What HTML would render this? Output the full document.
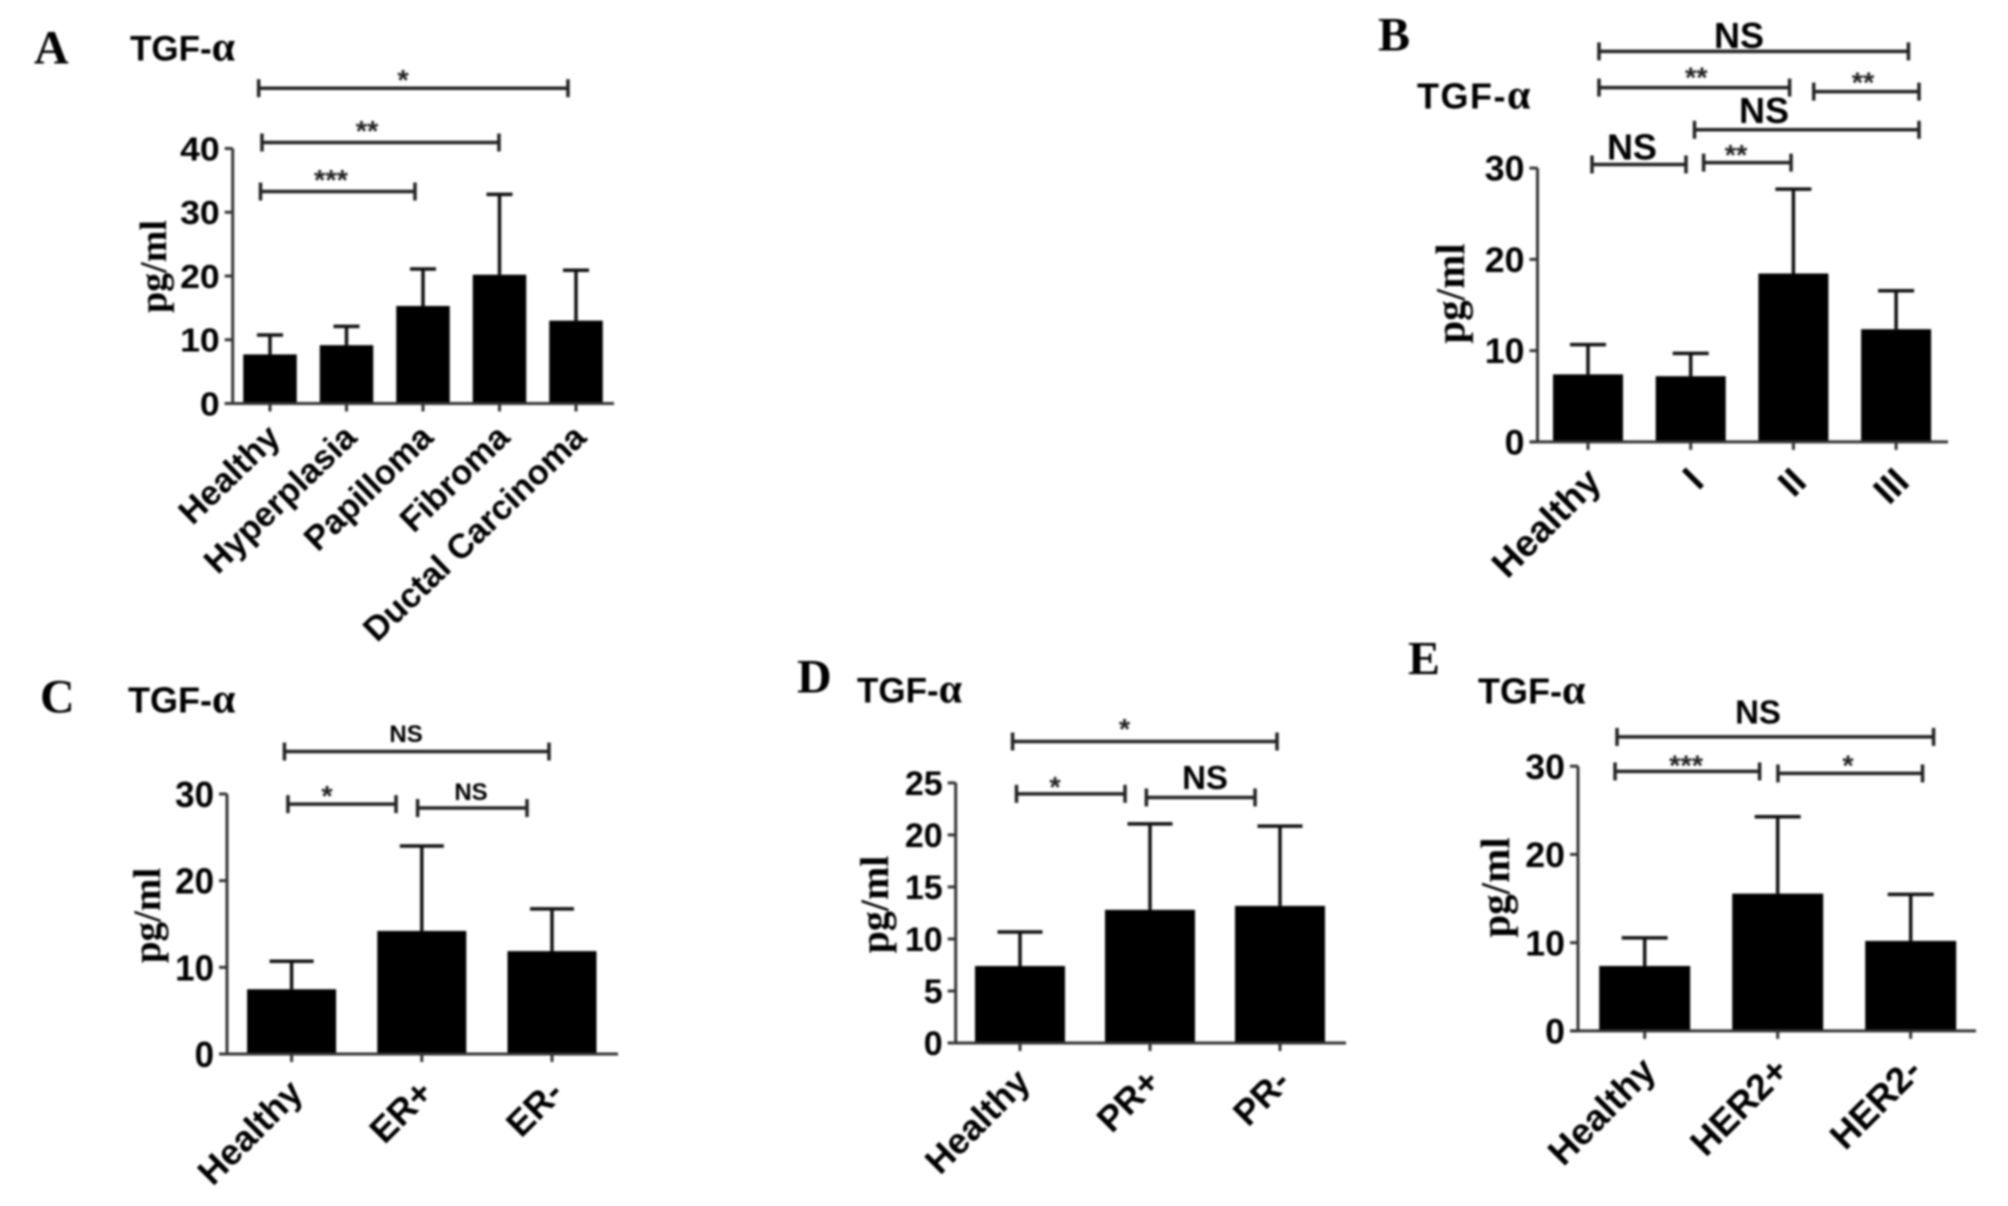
<!DOCTYPE html>
<html lang="en">
<head>
<meta charset="utf-8">
<title>TGF-α serum levels by group</title>
<style>
html,body{margin:0;padding:0;background:#fff;}
svg{display:block;filter:blur(1px);}
text{fill:#000;}
.sans{font-family:"Liberation Sans",sans-serif;font-weight:bold;}
.serif{font-family:"Liberation Serif",serif;font-weight:bold;}
.alpha{font-family:"Liberation Serif",serif;font-weight:bold;font-size:42px;}
</style>
</head>
<body>
<svg id="figure" xmlns="http://www.w3.org/2000/svg" width="2008" height="1206" viewBox="0 0 2008 1206">
  <rect x="0" y="0" width="2008" height="1206" fill="#fff"/>
  <g transform="translate(-2,-1.5)">

  <text class="serif" x="36" y="65" font-size="48">A</text>
  <text class="serif" x="1380" y="52" font-size="48">B</text>
  <text class="serif" x="42" y="714" font-size="48">C</text>
  <text class="serif" x="799" y="694" font-size="48">D</text>
  <text class="serif" x="1410" y="676" font-size="48">E</text>

  <text class="sans" x="132" y="62" font-size="35">TGF-<tspan class="alpha">α</tspan></text>
  <text class="sans" x="1419" y="110" font-size="36" letter-spacing="1.5">TGF-<tspan class="alpha">α</tspan></text>
  <text class="sans" x="130" y="714" font-size="36">TGF-<tspan class="alpha">α</tspan></text>
  <text class="sans" x="859" y="704" font-size="35">TGF-<tspan class="alpha">α</tspan></text>
  <text class="sans" x="1480" y="705" font-size="36">TGF-<tspan class="alpha">α</tspan></text>

  <text class="serif" text-anchor="middle" transform="translate(168,268) rotate(-90)" font-size="38">pg/ml</text>
  <text class="serif" text-anchor="middle" transform="translate(1466,295) rotate(-90)" font-size="41">pg/ml</text>
  <text class="serif" text-anchor="middle" transform="translate(162,917) rotate(-90)" font-size="39">pg/ml</text>
  <text class="serif" text-anchor="middle" transform="translate(890,906) rotate(-90)" font-size="40">pg/ml</text>
  <text class="serif" text-anchor="middle" transform="translate(1511,889) rotate(-90)" font-size="41">pg/ml</text>

  <g id="charts"></g>
  </g>
</svg>

<script>
/* Panel A */
const categoriesA = ['Healthy', 'Hyperplasia', 'Papilloma', 'Fibroma', 'Ductal Carcinoma'];
const meansA = [7.7, 9.15, 15.3, 20.2, 13.0];
const errorTopsA = [10.75, 12.1, 21.1, 32.8, 20.9];
const ticksA = [0, 10, 20, 30, 40];
const bracketLabelsA = ['*', '**', '***'];
const bracketFromA = [-0.148, -0.105, -0.124];
const bracketToA = [3.895, 2.993, 1.895];
const bracketLevelA = [49.46, 40.94, 33.25];
const bracketLabelAtA = [1.739, 1.268, 0.797];
const bracketLabelLevelA = [51.3, 43.3, 35.6];

/* Panel B */
const categoriesB = ['Healthy', 'I', 'II', 'III'];
const meansB = [7.4, 7.2, 18.45, 12.35];
const errorTopsB = [10.66, 9.7, 27.7, 16.56];
const ticksB = [0, 10, 20, 30];
const bracketLabelsB = ['NS', '**', '**', 'NS', 'NS', '**'];
const bracketFromB = [0.107, 0.107, 2.198, 1.037, 0.039, 1.126];
const bracketToB = [3.12, 1.963, 3.223, 3.223, 0.954, 1.977];
const bracketLevelB = [42.79, 38.82, 38.38, 34.2, 30.4, 30.6];
const bracketLabelAtB = [1.47, 1.054, 2.678, 1.714, 0.428, 1.441];
const bracketLabelLevelB = [44.57, 40.35, 39.8, 36.35, 32.35, 31.84];

/* Panel C */
const categoriesC = ['Healthy', 'ER+', 'ER-'];
const meansC = [7.47, 14.2, 11.87];
const errorTopsC = [10.7, 24.0, 16.75];
const ticksC = [0, 10, 20, 30];
const bracketLabelsC = ['NS', '*', 'NS'];
const bracketFromC = [-0.055, -0.028, 0.968];
const bracketToC = [1.977, 0.802, 1.808];
const bracketLevelC = [34.9, 28.83, 28.38];
const bracketLabelAtC = [0.879, 0.272, 1.378];
const bracketLabelLevelC = [36.98, 30.17, 30.29];

/* Panel D */
const categoriesD = ['Healthy', 'PR+', 'PR-'];
const meansD = [7.4, 12.8, 13.18];
const errorTopsD = [10.67, 21.06, 20.85];
const ticksD = [0, 5, 10, 15, 20, 25];
const bracketLabelsD = ['*', '*', 'NS'];
const bracketFromD = [-0.057, -0.027, 0.972];
const bracketToD = [1.977, 0.808, 1.808];
const bracketLevelD = [28.98, 23.95, 23.6];
const bracketLabelAtD = [0.804, 0.269, 1.423];
const bracketLabelLevelD = [30.52, 24.94, 25.56];

/* Panel E */
const categoriesE = ['Healthy', 'HER2+', 'HER2-'];
const meansE = [7.36, 15.56, 10.2];
const errorTopsE = [10.54, 24.27, 15.48];
const ticksE = [0, 10, 20, 30];
const bracketLabelsE = ['NS', '***', '*'];
const bracketFromE = [-0.208, -0.223, 1.002];
const bracketToE = [2.172, 0.864, 2.089];
const bracketLevelE = [33.32, 29.41, 29.18];
const bracketLabelAtE = [0.852, 0.311, 1.529];
const bracketLabelLevelE = [36.21, 30.48, 30.48];

const SVG_NS = 'http://www.w3.org/2000/svg';

function make(parent, tag, name, attrs, content) {
  const el = document.createElementNS(SVG_NS, tag);
  
  
  for (const key in attrs) el.setAttribute(key, attrs[key]);
  if (content !== undefined) el.textContent = content;
  parent.appendChild(el);
  return el;
}

function drawPanel(p) {
  const root = document.getElementById('charts');
  const g = make(root, 'g', 'panel-' + p.id, {});
  const yMax = p.ticks[p.ticks.length - 1];
  const xScale = i => p.firstCenter + i * p.step;
  const yScale = v => p.baseY - v * (p.baseY - p.topY) / yMax;
  const line = (name, x1, y1, x2, y2, stroke, width) =>
    make(g, 'line', name, { x1, y1, x2, y2, stroke, 'stroke-width': width });

  /* bars and error bars */
  p.categories.forEach((cat, i) => {
    const cx = xScale(i);
    const slug = cat.toLowerCase().replace(/[^a-z0-9]+/g, '-') + '-' + p.id;
    const top = yScale(p.means[i]);
    make(g, 'rect', 'bar-' + slug, {
      x: cx - p.barWidth / 2, y: top, width: p.barWidth, height: p.baseY - top, fill: '#000'
    });
    const errY = yScale(p.errorTops[i]);
    line('error-stem-' + slug, cx, top, cx, errY, '#111', p.stemWidth);
    line('error-cap-' + slug, cx - p.capHalf, errY, cx + p.capHalf, errY, '#111', p.stemWidth);
    line('x-tick-' + slug, cx, p.baseY, cx, p.baseY + p.tickLen, p.axisColor, p.axisWidth);
    const lx = cx + p.labelDx;
    const ly = p.baseY + p.labelDy;
    make(g, 'text', 'x-label-' + slug, {
      class: 'sans', 'text-anchor': 'end', 'font-size': p.labelSize,
      transform: 'translate(' + lx + ',' + ly + ') rotate(' + p.labelAngle + ')'
    }, cat);
  });

  /* axes */
  line('y-axis-' + p.id, p.axisX, p.topY, p.axisX, p.baseY, p.axisColor, p.axisWidth);
  line('x-axis-' + p.id, p.axisX - p.tickLen, p.baseY, p.xEnd, p.baseY, p.axisColor, p.axisWidth);
  p.ticks.forEach(t => {
    const y = yScale(t);
    line('y-tick-' + p.id + '-' + t, p.axisX - p.tickLen, y, p.axisX, y, p.axisColor, p.axisWidth);
    make(g, 'text', 'y-tick-label-' + p.id + '-' + t, {
      class: 'sans', 'text-anchor': 'end', 'font-size': p.tickSize,
      transform: 'translate(' + (p.axisX - p.tickLen - 5) + ',' + (y + p.tickSize * 0.36) + ') scale(' + p.tickStretch + ',1)'
    }, String(t));
  });

  /* significance brackets */
  p.bracketLabels.forEach((lab, i) => {
    const x1 = xScale(p.bracketFrom[i]);
    const x2 = xScale(p.bracketTo[i]);
    const y = yScale(p.bracketLevel[i]);
    const nm = 'bracket-' + p.id + '-' + (i + 1);
    line(nm + '-bar', x1, y, x2, y, '#222', 3.5);
    line(nm + '-left-end', x1, y - p.bracketEnd, x1, y + p.bracketEnd, '#222', 3.5);
    line(nm + '-right-end', x2, y - p.bracketEnd, x2, y + p.bracketEnd, '#222', 3.5);
    const isStar = lab.indexOf('*') === 0;
    const fs = isStar ? p.starSize : p.nsSizes[i];
    const by = yScale(p.bracketLabelLevel[i]) + fs * (isStar ? 0.47 : 0.36);
    make(g, 'text', nm + '-label', {
      class: 'sans', 'text-anchor': 'middle', 'font-size': fs,
      x: xScale(p.bracketLabelAt[i]), y: by,
      style: isStar ? 'fill:#222' : 'fill:#000'
    }, lab);
  });
}

const commonStyle = {
  axisColor: '#333', axisWidth: 3, stemWidth: 3.5, tickLen: 8, bracketEnd: 9, starSize: 29
};

drawPanel(Object.assign({}, commonStyle, {
  id: 'a', categories: categoriesA, means: meansA, errorTops: errorTopsA, ticks: ticksA,
  bracketLabels: bracketLabelsA, bracketFrom: bracketFromA, bracketTo: bracketToA,
  bracketLevel: bracketLevelA, bracketLabelAt: bracketLabelAtA, bracketLabelLevel: bracketLabelLevelA,
  firstCenter: 272, step: 76.5, barWidth: 53.5, capHalf: 13, axisX: 234.7, baseY: 405, topY: 150, xEnd: 616,
  tickSize: 33, tickStretch: 1.08, labelSize: 34.5, labelAngle: -44, labelDx: 12, labelDy: 36, nsSizes: []
}));

drawPanel(Object.assign({}, commonStyle, {
  id: 'b', categories: categoriesB, means: meansB, errorTops: errorTopsB, ticks: ticksB,
  bracketLabels: bracketLabelsB, bracketFrom: bracketFromB, bracketTo: bracketToB,
  bracketLevel: bracketLevelB, bracketLabelAt: bracketLabelAtB, bracketLabelLevel: bracketLabelLevelB,
  firstCenter: 1590, step: 102.7, barWidth: 70, capHalf: 18, axisX: 1539.5, baseY: 443.4, topY: 169.6, xEnd: 1950,
  tickSize: 35, tickStretch: 1.02, labelSize: 37.5, labelAngle: -45, labelDx: 15, labelDy: 42,
  nsSizes: [36, 0, 0, 36, 36, 0]
}));

drawPanel(Object.assign({}, commonStyle, {
  id: 'c', categories: categoriesC, means: meansC, errorTops: errorTopsC, ticks: ticksC,
  bracketLabels: bracketLabelsC, bracketFrom: bracketFromC, bracketTo: bracketToC,
  bracketLevel: bracketLevelC, bracketLabelAt: bracketLabelAtC, bracketLabelLevel: bracketLabelLevelC,
  firstCenter: 293.6, step: 130.2, barWidth: 89, capHalf: 22, axisX: 229, baseY: 1055.5, topY: 795.5, xEnd: 620,
  tickSize: 36, tickStretch: 0.97, labelSize: 36, labelAngle: -45, labelDx: 13, labelDy: 41,
  nsSizes: [24, 0, 24]
}));

drawPanel(Object.assign({}, commonStyle, {
  id: 'd', categories: categoriesD, means: meansD, errorTops: errorTopsD, ticks: ticksD,
  bracketLabels: bracketLabelsD, bracketFrom: bracketFromD, bracketTo: bracketToD,
  bracketLevel: bracketLevelD, bracketLabelAt: bracketLabelAtD, bracketLabelLevel: bracketLabelLevelD,
  firstCenter: 1022, step: 130, barWidth: 90, capHalf: 22.5, axisX: 957.7, baseY: 1044.5, topY: 784.4, xEnd: 1348,
  tickSize: 34, tickStretch: 1.0, labelSize: 36, labelAngle: -45, labelDx: 12, labelDy: 41,
  nsSizes: [0, 0, 33]
}));

drawPanel(Object.assign({}, commonStyle, {
  id: 'e', categories: categoriesE, means: meansE, errorTops: errorTopsE, ticks: ticksE,
  bracketLabels: bracketLabelsE, bracketFrom: bracketFromE, bracketTo: bracketToE,
  bracketLevel: bracketLevelE, bracketLabelAt: bracketLabelAtE, bracketLabelLevel: bracketLabelLevelE,
  firstCenter: 1646.7, step: 133, barWidth: 91, capHalf: 23, axisX: 1580, baseY: 1032.4, topY: 767.7, xEnd: 1978,
  tickSize: 35, tickStretch: 1.02, labelSize: 37, labelAngle: -45, labelDx: 13, labelDy: 42,
  nsSizes: [33, 0, 0]
}));
</script>
</body>
</html>
